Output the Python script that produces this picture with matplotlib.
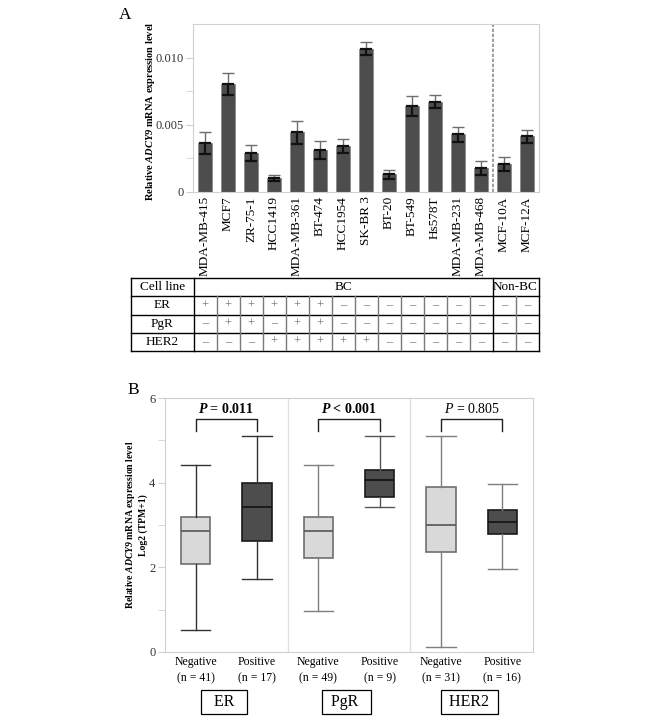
import numpy as np
import matplotlib.pyplot as plt

plt.rcParams['font.family'] = ['Liberation Serif', 'DejaVu Serif']
plt.rcParams['mathtext.fontset'] = 'custom'
plt.rcParams['mathtext.rm'] = 'Liberation Serif'
plt.rcParams['mathtext.it'] = 'Liberation Serif:italic'
plt.rcParams['mathtext.bf'] = 'Liberation Serif:bold'
plt.rcParams['mathtext.bfit'] = 'Liberation Serif:italic:bold'

# ---- panel A data
cell_lines = ['MDA-MB-415', 'MCF7', 'ZR-75-1', 'HCC1419', 'MDA-MB-361', 'BT-474',
              'HCC1954', 'SK-BR 3', 'BT-20', 'BT-549', 'Hs578T', 'MDA-MB-231',
              'MDA-MB-468', 'MCF-10A', 'MCF-12A']
expr = [0.00368, 0.00804, 0.00289, 0.00104, 0.00443, 0.00313, 0.00341, 0.01065,
        0.00132, 0.00637, 0.00672, 0.00430, 0.00177, 0.00211, 0.00413]
expr_err = [0.00082, 0.00084, 0.00059, 0.00025, 0.00085, 0.00065, 0.00052, 0.00049,
            0.00034, 0.00074, 0.00050, 0.00057, 0.00054, 0.00052, 0.00050]
er_status = ['+', '+', '+', '+', '+', '+', '-', '-', '-', '-', '-', '-', '-', '-', '-']
pgr_status = ['-', '+', '+', '-', '+', '+', '-', '-', '-', '-', '-', '-', '-', '-', '-']
her2_status = ['-', '-', '-', '+', '+', '+', '+', '+', '-', '-', '-', '-', '-', '-', '-']
n_bc = 13

# ---- panel B data
groups = ['ER', 'PgR', 'HER2']
box_labels = ['Negative\n(n = 41)', 'Positive\n(n = 17)', 'Negative\n(n = 49)',
              'Positive\n(n = 9)', 'Negative\n(n = 31)', 'Positive\n(n = 16)']
whislo = [0.53, 1.72, 0.98, 3.43, 0.12, 1.96]
q1 = [2.09, 2.62, 2.21, 3.66, 2.36, 2.78]
med = [2.87, 3.43, 2.87, 4.06, 3.01, 3.07]
q3 = [3.18, 4.00, 3.18, 4.30, 3.89, 3.35]
whishi = [4.41, 5.11, 4.41, 5.11, 5.11, 3.96]
p_text = [r'$\mathbfit{P}$ = 0.011', r'$\mathbfit{P}$ < 0.001', r'$\mathit{P}$ = 0.805']
p_bold = [True, True, False]

fig = plt.figure(figsize=(6.66, 7.24), dpi=100)
W, H = 666, 724


def px_axes(x0, y0, x1, y1):
    return fig.add_axes([x0 / W, 1 - y1 / H, (x1 - x0) / W, (y1 - y0) / H])


frame = '#d0d0d0'

# ================= Panel A bars
axA = px_axes(193, 24, 539, 192)
x = np.arange(len(cell_lines))
axA.bar(x, expr, width=0.58, color='#4d4d4d', edgecolor='#8a8a8a', linewidth=0.6, zorder=2)
zero = np.zeros(len(x))
axA.errorbar(x, expr, yerr=[zero, expr_err], fmt='none', ecolor='#6e6e6e',
             elinewidth=1.0, capsize=4, capthick=1.0, zorder=3)
axA.errorbar(x, expr, yerr=[expr_err, zero], fmt='none', ecolor='#111111',
             elinewidth=1.6, capsize=4, capthick=1.6, zorder=3)
axA.axvline(n_bc - 0.5, color='#8c8c8c', lw=1.2, ls=(0, (2, 1)), zorder=1)
axA.set_xlim(-0.52, len(x) - 0.48)
axA.set_ylim(0, 0.0125)
axA.set_yticks([0, 0.005, 0.010])
axA.set_yticklabels(['0', '0.005', '0.010'])
axA.set_yticks([0.0025, 0.0075], minor=True)
axA.set_xticks(x)
axA.set_xticklabels(cell_lines, rotation=90, fontsize=9.5)
axA.tick_params(axis='x', length=0, pad=3)
axA.tick_params(axis='y', which='both', length=5, color=frame, labelsize=9, labelcolor='#333333', pad=2)
for s in axA.spines.values():
    s.set_color(frame)
axA.set_ylabel(r'Relative $\mathbfit{ADCY9}$ mRNA expression level', fontsize=7.5,
               fontweight='bold')
axA.yaxis.set_label_coords(-0.105, 0.48)
fig.text(125 / W, 1 - 15 / H, 'A', fontsize=12.5, va='center', ha='center')

# ================= table
axT = px_axes(131, 278, 539, 351)
axT.set_xlim(-3.22, len(x) - 0.48)
axT.set_ylim(0, 4)
axT.axis('off')
xl, xr = -3.22, len(x) - 0.5
for yy in [0, 1, 2, 3, 4]:
    axT.plot([xl, xr], [yy, yy], color='black', lw=1.0, clip_on=False)
for xx in [xl, -0.5, n_bc - 0.5, xr]:
    axT.plot([xx, xx], [0, 4], color='black', lw=1.0, clip_on=False)
for xx in np.arange(0.5, len(x) - 1, 1.0):
    if abs(xx - (n_bc - 0.5)) > 0.01:
        axT.plot([xx, xx], [0, 3], color='#7a7a7a', lw=1.0)
hdr_x = (xl - 0.5) / 2
axT.text(hdr_x, 3.5, 'Cell line', ha='center', va='center', fontsize=9.5)
axT.text((n_bc - 1) / 2, 3.5, 'BC', ha='center', va='center', fontsize=9.5)
axT.text((n_bc + len(x) - 1) / 2, 3.5, 'Non-BC', ha='center', va='center', fontsize=9.5)
for row, (name, vals) in enumerate([('ER', er_status), ('PgR', pgr_status), ('HER2', her2_status)]):
    yy = 2.5 - row
    axT.text(hdr_x, yy, name, ha='center', va='center', fontsize=9.5)
    for i, v in enumerate(vals):
        axT.text(i, yy, '+' if v == '+' else '\u2013', ha='center', va='center',
                 fontsize=9, color='#707070')

# ================= Panel B boxplots
axB = px_axes(165, 398, 533, 652)
pos = [0.25, 0.75, 1.25, 1.75, 2.25, 2.75]
stats = []
for i in range(6):
    stats.append(dict(med=med[i], q1=q1[i], q3=q3[i], whislo=whislo[i], whishi=whishi[i], fliers=[]))
bp = axB.bxp(stats, positions=pos, widths=0.24, patch_artist=True, showfliers=False)
wcol = ['#333333', '#333333', '#7f7f7f', '#555555', '#7f7f7f', '#7f7f7f']
for i in range(6):
    neg = i % 2 == 0
    box = bp['boxes'][i]
    box.set_facecolor('#d9d9d9' if neg else '#4d4d4d')
    box.set_edgecolor('#6f6f6f' if neg else '#1a1a1a')
    box.set_linewidth(1.2)
    bp['medians'][i].set_color('#555555' if neg else '#111111')
    bp['medians'][i].set_linewidth(1.2)
    for k in (2 * i, 2 * i + 1):
        bp['whiskers'][k].set_color(wcol[i])
        bp['whiskers'][k].set_linewidth(1.0)
        bp['caps'][k].set_color(wcol[i])
        bp['caps'][k].set_linewidth(1.0)
        bp['caps'][k].set_xdata([pos[i] - 0.12, pos[i] + 0.12])

for g in [1, 2]:
    axB.axvline(g, color='#e0e0e0', lw=1.0, zorder=0)

for g in range(3):
    xa, xb = pos[2 * g], pos[2 * g + 1]
    axB.plot([xa, xa, xb, xb], [5.22, 5.51, 5.51, 5.22], color='#222222', lw=1.0)
    axB.text((xa + xb) / 2, 5.58, p_text[g], ha='center', va='bottom', fontsize=10,
             fontweight='bold' if p_bold[g] else 'normal')

axB.set_xlim(0, 3)
axB.set_ylim(0, 6)
axB.set_yticks([0, 2, 4, 6])
axB.set_yticks([1, 3, 5], minor=True)
axB.set_xticks(pos)
axB.set_xticklabels(box_labels, fontsize=8.5, linespacing=1.45)
axB.tick_params(axis='x', length=0, pad=3)
axB.tick_params(axis='y', which='both', length=5, color=frame, labelsize=9, labelcolor='#333333', pad=2)
for s in axB.spines.values():
    s.set_color(frame)
axB.set_ylabel('Relative $\\mathbfit{ADCY9}$ mRNA expression level\nLog2 (TPM+1)',
               fontsize=7, fontweight='bold', linespacing=1.25)
axB.yaxis.set_label_coords(-0.046, 0.5)
for g in range(3):
    axB.annotate(groups[g].center(6), xy=(g + 0.48, 0), xycoords=('data', 'axes fraction'),
                 xytext=(0, -36), textcoords='offset points', ha='center', va='center',
                 fontsize=11.5, bbox=dict(boxstyle='square,pad=0.28', fc='white', ec='black', lw=0.9))
fig.text(133 / W, 1 - 390 / H, 'B', fontsize=12.5, va='center', ha='center')

fig.savefig('out.png', dpi=100)
